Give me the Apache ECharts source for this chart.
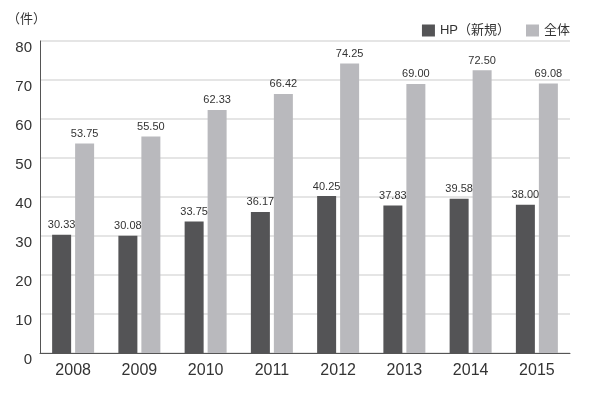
<!DOCTYPE html>
<html><head><meta charset="utf-8">
<script src="https://cdn.jsdelivr.net/npm/echarts@6/dist/echarts.min.js"></script>
<style>html,body{margin:0;padding:0;background:#fff}#c{width:600px;height:394px}</style>
</head><body><div id="c"></div>
<script>
const categories = ['2008','2009','2010','2011','2012','2013','2014','2015'];
const hpNew = [30.33, 30.08, 33.75, 36.17, 40.25, 37.83, 39.58, 38.00];
const total = [53.75, 55.50, 62.33, 66.42, 74.25, 69.00, 72.50, 69.08];
const seriesNames = ['HP（新規）', '全体'];
const chart = echarts.init(document.getElementById('c'));
const fontFam = '"Liberation Sans", "Noto Sans CJK JP", sans-serif';
const lbl = {show:true, position:'top', distance:4, fontSize:11, color:'#333',
  fontFamily:'"Liberation Sans", sans-serif',
  formatter: p => p.value.toFixed(2)};
chart.setOption({
  animation:false,
  textStyle:{fontFamily:fontFam},
  grid:{left:40, right:30, top:41, bottom:41, containLabel:false},
  title:{text:'（件）', left:2, top:7, textStyle:{fontSize:13, fontWeight:'normal', color:'#333', fontFamily:'"Noto Sans CJK JP", sans-serif'}},
  legend:{right:25, top:19, itemWidth:13, itemHeight:12, itemGap:16, icon:'rect',
    textStyle:{fontSize:13, color:'#333', fontFamily:fontFam}, data:seriesNames},
  xAxis:{type:'category', data:categories,
    axisLine:{lineStyle:{color:'#555', width:1}}, axisTick:{show:false},
    axisLabel:{fontSize:16, color:'#333', margin:10}},
  yAxis:{type:'value', min:0, max:80, interval:10,
    axisLine:{show:true, lineStyle:{color:'#555', width:1}}, axisTick:{show:false},
    splitLine:{lineStyle:{color:'#ddd', width:1.5}},
    axisLabel:{color:'#333', margin:8, formatter: v => '{a|' + v + '}',
      rich:{a:{fontSize:15, color:'#333', padding:[14,0,0,0], fontFamily:fontFam}}}},
  series:[
    {name:seriesNames[0], type:'bar', data:hpNew, barWidth:19, barGap:'21%', barCategoryGap:'36%',
      itemStyle:{color:'#545456'}, label:lbl},
    {name:seriesNames[1], type:'bar', data:total, barWidth:19,
      itemStyle:{color:'#b9b9bd'}, label:lbl}
  ]
});
</script></body></html>
